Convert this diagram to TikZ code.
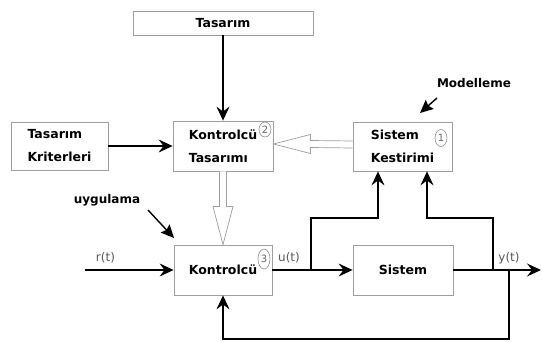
\documentclass[tikz,border=0pt]{standalone}
\usepackage{fontspec}
\setmainfont{DejaVu Sans}
\usetikzlibrary{arrows.meta,calc,shapes.geometric}

\begin{document}
\begin{tikzpicture}[x=1pt,y=-1pt,
    kutu/.style={draw=black!38, fill=white, line width=0.8pt, align=left,
        font=\fontsize{12.5}{23}\selectfont\bfseries},
    daire/.style={ellipse, draw=black!45, text=black!60, line width=0.6pt,
        font=\fontsize{10}{10}\selectfont, inner sep=0pt, minimum width=12pt},
    sinyal/.style={text=black!65, font=\fontsize{12}{12}\selectfont},
    etiket/.style={font=\fontsize{12}{12}\selectfont\bfseries},
    ok/.style={-{Stealth[length=14pt,width=13pt,inset=5pt]}, line width=1.4pt},
    isaret/.style={-{Stealth[length=13pt,width=12pt,inset=2pt]}, line width=1.4pt},
    bosok/.style={draw=black!38, fill=white, line width=0.7pt, line join=miter}]
    \useasboundingbox (0,0) rectangle (542,342);

    % bloklar
    \node[kutu, minimum width=180pt, minimum height=24pt] (tasarim) at (223,23) {Tasarım};
    \node[kutu, minimum width=97pt, minimum height=48pt] (kriter) at (59.5,146) {Tasarım\\Kriterleri};
    \node[kutu, minimum width=100pt, minimum height=50pt] (ktasarim) at (223,146) {Kontrolcü\\Tasarımı};
    \node[kutu, minimum width=99pt, minimum height=49pt] (kestirim) at (402.5,146.5) {Sistem\\Kestirimi};
    \node[kutu, minimum width=98pt, minimum height=50pt] (kontrol) at (223,270) {Kontrolcü};
    \node[kutu, minimum width=100pt, minimum height=50pt] (sistem) at (403,270) {Sistem};

    % numaralar
    \node[daire, minimum height=15pt] (n2) at (265,129.5) {2};
    \node[daire, minimum height=17pt] (n1) at (441,138) {1};
    \node[daire, minimum height=20pt] (n3) at (264,259) {3};

    % etiketler
    \node[sinyal] (r) at (105.5,258) {r(t)};
    \node[sinyal] (u) at (289,258) {u(t)};
    \node[sinyal] (y) at (509,258) {y(t)};
    \node[etiket] (model) at (474,83) {Modelleme};
    \node[etiket] (uyg) at (107,200) {uygulama};

    % bos oklar
    \draw[bosok] ([yshift=5.5pt]kestirim.west) -- ([xshift=37pt,yshift=5.5pt]ktasarim.east)
        -- ([xshift=37pt,yshift=11.5pt]ktasarim.east) -- ([yshift=2pt]ktasarim.east)
        -- ([xshift=37pt,yshift=-7.5pt]ktasarim.east) -- ([xshift=37pt,yshift=-1.5pt]ktasarim.east)
        -- ([yshift=-1.5pt]kestirim.west);
    \draw[bosok] ([xshift=-3.5pt]ktasarim.south) -- ([xshift=-3.5pt,yshift=38pt]kontrol.north)
        -- ([xshift=-10pt,yshift=38pt]kontrol.north) -- (kontrol.north)
        -- ([xshift=10pt,yshift=38pt]kontrol.north) -- ([xshift=3.5pt,yshift=38pt]kontrol.north)
        -- ([xshift=3.5pt]ktasarim.south);

    % baglantilar
    \coordinate (rgiris) at (85,270);
    \coordinate (ub) at (311,270);
    \coordinate (yb) at (493,270);
    \coordinate (gb) at (509,270);
    \coordinate (ycikis) at (541,270);
    \coordinate (alt) at (509,339);
    \draw[ok] (tasarim) -- (ktasarim);
    \draw[ok] (kriter) -- (ktasarim);
    \draw[ok] (rgiris) -- (kontrol);
    \draw[ok] (kontrol) -- (sistem);
    \draw[ok] (sistem) -- (ycikis);
    \draw[ok] (ub) -- ++(0,-52) -| ([xshift=-24.5pt]kestirim.south);
    \draw[ok] (yb) -- ++(0,-52) -| ([xshift=24.5pt]kestirim.south);
    \draw[ok] (gb) -- (alt) -| (kontrol.south);

    % isaret oklari
    \coordinate (m1) at (437,98);
    \coordinate (m2) at (420,113);
    \coordinate (u1) at (148,210);
    \coordinate (u2) at (174,238);
    \draw[isaret] (m1) -- (m2);
    \draw[isaret] (u1) -- (u2);
\end{tikzpicture}
\end{document}
